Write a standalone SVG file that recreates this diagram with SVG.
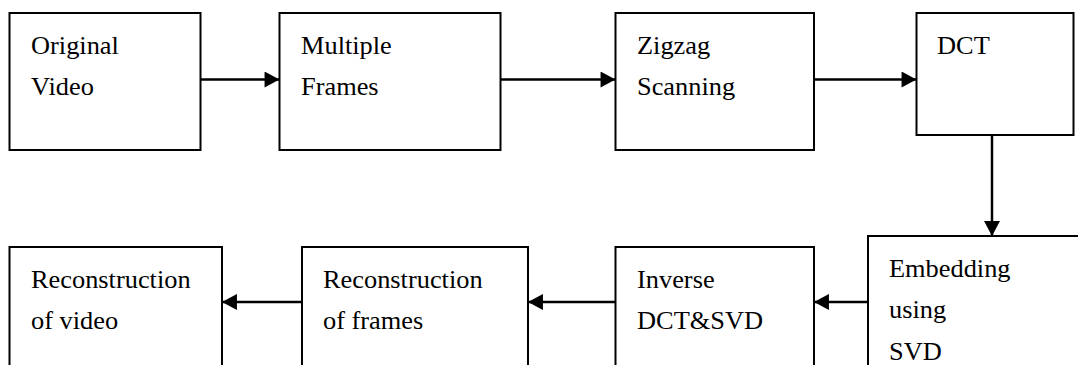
<svg xmlns="http://www.w3.org/2000/svg" width="1078" height="365" viewBox="0 0 1078 365">
  <style>
    .box { fill: #ffffff; stroke: #000000; stroke-width: 2; }
    .lbl { font-family: "Liberation Serif", "Times New Roman", serif; font-size: 25px; fill: #000000; }
    .edge { fill: none; stroke: #000000; stroke-width: 2.5; marker-end: url(#arrow); }
  </style>
  <defs>
    <marker id="arrow" markerUnits="userSpaceOnUse" markerWidth="16" markerHeight="16" viewBox="0 0 14 15" refX="14" refY="7.5" orient="auto">
      <path d="M0,0 L14,7.5 L0,15 Z" fill="#000000"/>
    </marker>
  </defs>
  <rect width="1078" height="365" fill="#ffffff"/>

  <!-- top row -->
  <g id="original-video">
    <rect class="box" x="9.5" y="13" width="191" height="137"/>
    <text class="lbl" transform="translate(31,54) scale(1.055,1)"><tspan x="0">Original</tspan><tspan x="0" dy="41.5">Video</tspan></text>
  </g>
  <g id="multiple-frames">
    <rect class="box" x="279.5" y="13" width="221" height="137"/>
    <text class="lbl" transform="translate(301,54) scale(1.055,1)"><tspan x="0">Multiple</tspan><tspan x="0" dy="41.5">Frames</tspan></text>
  </g>
  <g id="zigzag-scanning">
    <rect class="box" x="615.5" y="13" width="198.5" height="137"/>
    <text class="lbl" transform="translate(637,54) scale(1.055,1)"><tspan x="0">Zigzag</tspan><tspan x="0" dy="41.5">Scanning</tspan></text>
  </g>
  <g id="dct">
    <rect class="box" x="916.5" y="13" width="157" height="122"/>
    <text class="lbl" transform="translate(937,54) scale(1.055,1)">DCT</text>
  </g>

  <!-- bottom row -->
  <g id="embedding-svd">
    <rect class="box" x="868" y="236" width="220" height="140"/>
    <text class="lbl" transform="translate(889,277) scale(1.055,1)"><tspan x="0">Embedding</tspan><tspan x="0" dy="41.5">using</tspan><tspan x="0" dy="41.5">SVD</tspan></text>
  </g>
  <g id="inverse-dct-svd">
    <rect class="box" x="615.5" y="247" width="198.5" height="130"/>
    <text class="lbl" transform="translate(637,288) scale(1.055,1)"><tspan x="0">Inverse</tspan><tspan x="0" dy="41.5">DCT&amp;SVD</tspan></text>
  </g>
  <g id="reconstruction-frames">
    <rect class="box" x="302" y="247" width="226" height="130"/>
    <text class="lbl" transform="translate(323,288) scale(1.055,1)"><tspan x="0">Reconstruction</tspan><tspan x="0" dy="41.5">of frames</tspan></text>
  </g>
  <g id="reconstruction-video">
    <rect class="box" x="9.5" y="247" width="212.5" height="130"/>
    <text class="lbl" transform="translate(31,288) scale(1.055,1)"><tspan x="0">Reconstruction</tspan><tspan x="0" dy="41.5">of video</tspan></text>
  </g>

  <!-- connectors -->
  <g id="connectors">
    <line class="edge" x1="200.5" y1="79.5" x2="279.5" y2="79.5"/>
    <line class="edge" x1="500.5" y1="79.5" x2="615.5" y2="79.5"/>
    <line class="edge" x1="814" y1="79.5" x2="916.5" y2="79.5"/>
    <line class="edge" x1="992" y1="135" x2="992" y2="236"/>
    <line class="edge" x1="868" y1="302" x2="814" y2="302"/>
    <line class="edge" x1="615.5" y1="302" x2="528" y2="302"/>
    <line class="edge" x1="302" y1="302" x2="222" y2="302"/>
  </g>
</svg>
